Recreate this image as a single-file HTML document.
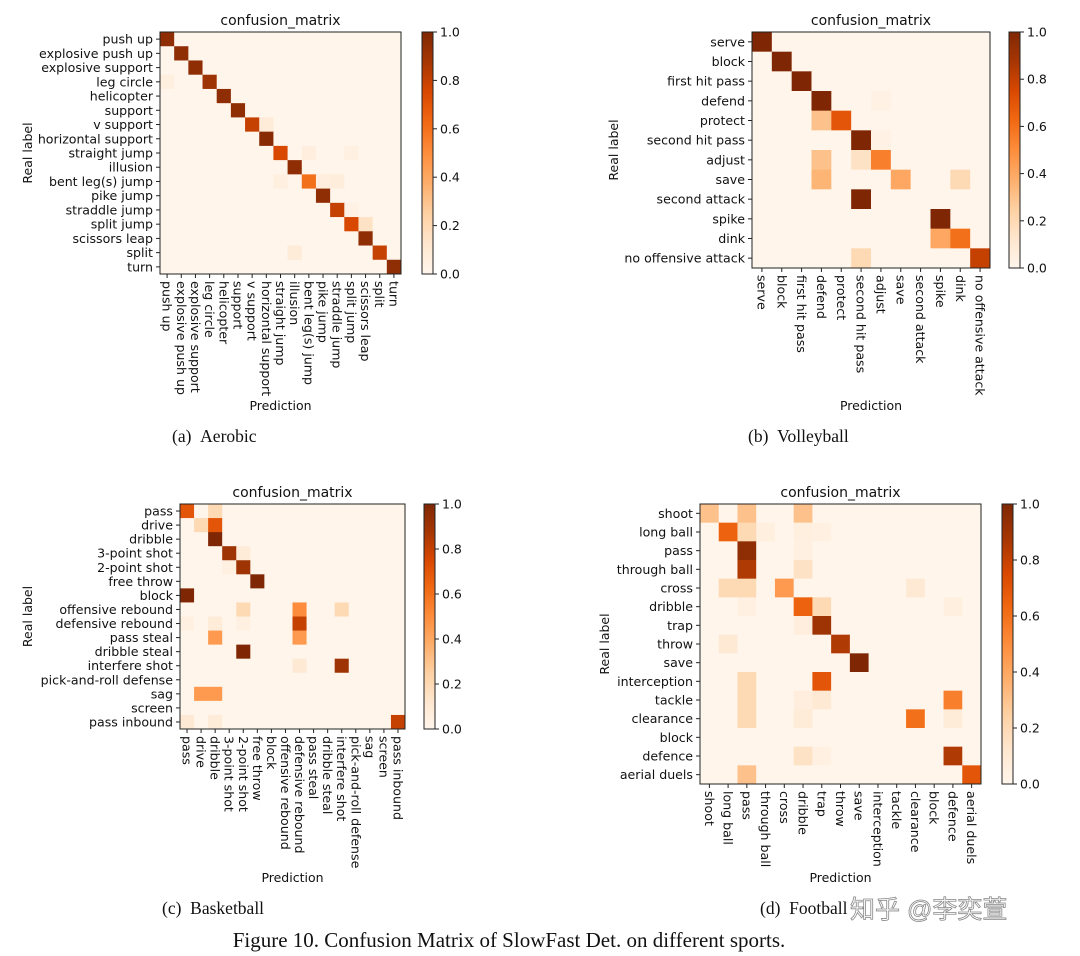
<!DOCTYPE html>
<html><head><meta charset="utf-8"><style>
html,body{margin:0;padding:0;background:#fff;}
svg{display:block;font-family:"DejaVu Sans","Liberation Sans",sans-serif;}
.cap{font-family:"Liberation Serif",serif;font-size:17.5px;fill:#111;white-space:pre;}
</style></head><body>
<svg id="fig" width="1080" height="956" viewBox="0 0 1080 956" xmlns="http://www.w3.org/2000/svg"></svg>
<script>
const aerobicLabels=["push up","explosive push up","explosive support","leg circle","helicopter","support","v support","horizontal support","straight jump","illusion","bent leg(s) jump","pike jump","straddle jump","split jump","scissors leap","split","turn"];
const aerobicDiag=[0.95,0.95,0.95,0.9,0.95,0.95,0.8,0.97,0.75,0.95,0.6,0.95,0.8,0.75,0.95,0.8,0.95];
const aerobicOff=[[3,0,0.05],[6,7,0.08],[8,10,0.06],[8,13,0.04],[10,8,0.05],[10,11,0.06],[10,12,0.07],[13,14,0.15],[15,9,0.08],[12,13,0.03]];
const volleyLabels=["serve","block","first hit pass","defend","protect","second hit pass","adjust","save","second attack","spike","dink","no offensive attack"];
const volleyDiag=[1.0,1.0,1.0,1.0,0.7,1.0,0.55,0.4,0,1.0,0.6,0.8];
const volleyOff=[[4,3,0.3],[6,3,0.3],[6,5,0.15],[7,3,0.35],[7,10,0.2],[8,5,1.0],[9,9,1.0],[10,9,0.4],[11,5,0.2],[3,6,0.03],[5,6,0.03]];
const basketLabels=["pass","drive","dribble","3-point shot","2-point shot","free throw","block","offensive rebound","defensive rebound","pass steal","dribble steal","interfere shot","pick-and-roll defense","sag","screen","pass inbound"];
const basketDiag=[0.7,0.2,1.0,0.9,0.9,1.0,0,0,0.8,0,0,0.9,0,0,0,0.8];
const basketOff=[[0,2,0.2],[1,2,0.7],[3,4,0.08],[4,3,0.04],[6,0,1.0],[7,4,0.2],[7,8,0.5],[7,11,0.2],[8,0,0.04],[8,2,0.08],[8,4,0.04],[9,2,0.45],[9,8,0.45],[10,4,1.0],[11,8,0.1],[13,1,0.45],[13,2,0.45],[15,0,0.1],[15,2,0.08]];
const footLabels=["shoot","long ball","pass","through ball","cross","dribble","trap","throw","save","interception","tackle","clearance","block","defence","aerial duels"];
const footDiag=[0.3,0.65,0.95,0,0.45,0.65,0.9,0.85,1.0,0,0,0.6,0,0.85,0.7];
const footOff=[[0,2,0.3],[0,5,0.3],[1,2,0.2],[1,3,0.05],[1,5,0.05],[1,6,0.04],[2,5,0.04],[3,2,0.85],[3,5,0.15],[4,1,0.2],[4,2,0.2],[4,11,0.1],[5,2,0.04],[5,6,0.2],[5,13,0.05],[6,5,0.06],[7,1,0.1],[9,2,0.2],[9,6,0.7],[10,2,0.2],[10,5,0.06],[10,6,0.1],[10,13,0.55],[11,2,0.2],[11,5,0.08],[11,13,0.08],[13,5,0.15],[13,6,0.04],[14,2,0.3]];
const cbTicks=[0,0.2,0.4,0.6,0.8,1.0];
const cbTickLabels=["0.0","0.2","0.4","0.6","0.8","1.0"];

const NS="http://www.w3.org/2000/svg";
const svg=document.getElementById('fig');
const stops=[[0,[255,245,235]],[0.125,[254,230,206]],[0.25,[253,208,162]],[0.375,[253,174,107]],[0.5,[253,141,60]],[0.625,[241,105,19]],[0.75,[217,72,1]],[0.875,[166,54,3]],[1,[127,39,4]]];
function cmap(v){v=Math.max(0,Math.min(1,v));for(let i=1;i<stops.length;i++){if(v<=stops[i][0]){const a=stops[i-1],b=stops[i],t=(v-a[0])/(b[0]-a[0]);const c=a[1].map((x,k)=>Math.round(x+(b[1][k]-x)*t));return `rgb(${c[0]},${c[1]},${c[2]})`;}}return 'rgb(127,39,4)';}
function el(tag,attrs,parent){const e=document.createElementNS(NS,tag);for(const k in attrs)e.setAttribute(k,attrs[k]);(parent||svg).appendChild(e);return e;}
function txt(s,attrs,parent){const e=el('text',attrs,parent);e.textContent=s;return e;}
function build(name,labels,diag,off,g){
  const n=labels.length;
  const M=[];for(let i=0;i<n;i++){M.push(new Array(n).fill(0));M[i][i]=diag[i];}
  off.forEach(o=>{M[o[0]][o[1]]=o[2];});
  const grp=el('g',{});
  
  
  const cw=(g.x1-g.x0)/n,ch=(g.y1-g.y0)/n;
  const xs=j=>g.x0+j*cw, ys=i=>g.y0+i*ch;
  for(let i=0;i<n;i++)for(let j=0;j<n;j++){
    const r=el('rect',{x:xs(j),y:ys(i),width:cw+0.5,height:ch+0.5,fill:cmap(M[i][j])},grp);
    
    
  }
  el('rect',{x:g.x0,y:g.y0,width:g.x1-g.x0,height:g.y1-g.y0,fill:'none',stroke:'#222','stroke-width':1},grp);
  for(let i=0;i<n;i++){
    const cy=ys(i)+ch/2;
    el('line',{x1:g.x0-4,x2:g.x0,y1:cy,y2:cy,stroke:'#222'},grp);
    const t=txt(labels[i],{x:g.x0-7,y:cy+4.5,'font-size':12.6,'text-anchor':'end',fill:'#111'},grp);
    
    
    const cx=xs(i)+cw/2;
    el('line',{x1:cx,x2:cx,y1:g.y1,y2:g.y1+4,stroke:'#222'},grp);
    const t2=txt(labels[i],{x:0,y:0,'font-size':12.6,fill:'#111',transform:`translate(${cx-4.5},${g.y1+7}) rotate(90)`},grp);
    
    
  }
  const tt=txt('confusion_matrix',{x:(g.x0+g.x1)/2,y:g.y0-7,'font-size':14,'text-anchor':'middle',fill:'#111'},grp);
  
  
  const xl=txt('Prediction',{x:(g.x0+g.x1)/2,y:g.xly,'font-size':12.5,'text-anchor':'middle',fill:'#111'},grp);
  
  
  const yl=txt('Real label',{x:0,y:0,'font-size':12.5,'text-anchor':'middle',fill:'#111',transform:`translate(${g.ylx},${(g.y0+g.y1)/2}) rotate(-90)`},grp);
  
  
  const gid='grad-'+name;
  const lg=el('linearGradient',{id:gid,x1:0,y1:1,x2:0,y2:0},grp);
  for(let k=0;k<=16;k++){el('stop',{offset:k/16,'stop-color':cmap(k/16)},lg);}
  const cb=el('rect',{x:g.cbx,y:g.y0,width:11,height:g.y1-g.y0,fill:`url(#${gid})`,stroke:'#222','stroke-width':1},grp);
  
  
  cbTicks.forEach((v,k)=>{
    const y=g.y1-v*(g.y1-g.y0);
    el('line',{x1:g.cbx+11,x2:g.cbx+15,y1:y,y2:y,stroke:'#222'},grp);
    const c=txt(cbTickLabels[k],{x:g.cbx+18,y:y+4.5,'font-size':12.5,fill:'#111'},grp);
    
    
  });
  const cap=txt(g.cap,{x:g.capx,y:g.capy,'class':'cap'},grp);
  
  
}
build('aerobic',aerobicLabels,aerobicDiag,aerobicOff,{x0:160,y0:32,x1:401,y1:274,cbx:422,xly:410,ylx:32,cap:'(a)\u00a0\u00a0Aerobic',capx:172,capy:442});
build('volleyball',volleyLabels,volleyDiag,volleyOff,{x0:752,y0:32,x1:990,y1:268,cbx:1009,xly:410,ylx:618,cap:'(b)\u00a0\u00a0Volleyball',capx:748,capy:442});
build('basketball',basketLabels,basketDiag,basketOff,{x0:180,y0:504,x1:405,y1:729,cbx:424,xly:882,ylx:32,cap:'(c)\u00a0\u00a0Basketball',capx:162,capy:914});
build('football',footLabels,footDiag,footOff,{x0:700,y0:504,x1:981,y1:784,cbx:1002,xly:882,ylx:609,cap:'(d)\u00a0\u00a0Football',capx:760,capy:914});
const wm=txt('知乎 @李奕萱',{x:850,y:918,'font-size':25,fill:'#fff',stroke:'#888','stroke-width':0.8,'font-family':'"Liberation Sans","Noto Sans CJK SC",sans-serif'});


const fc=txt('Figure 10. Confusion Matrix of SlowFast Det. on different sports.',{x:509,y:947,'text-anchor':'middle','font-size':21,fill:'#111','font-family':'"Liberation Serif",serif'});


</script>
</body></html>
